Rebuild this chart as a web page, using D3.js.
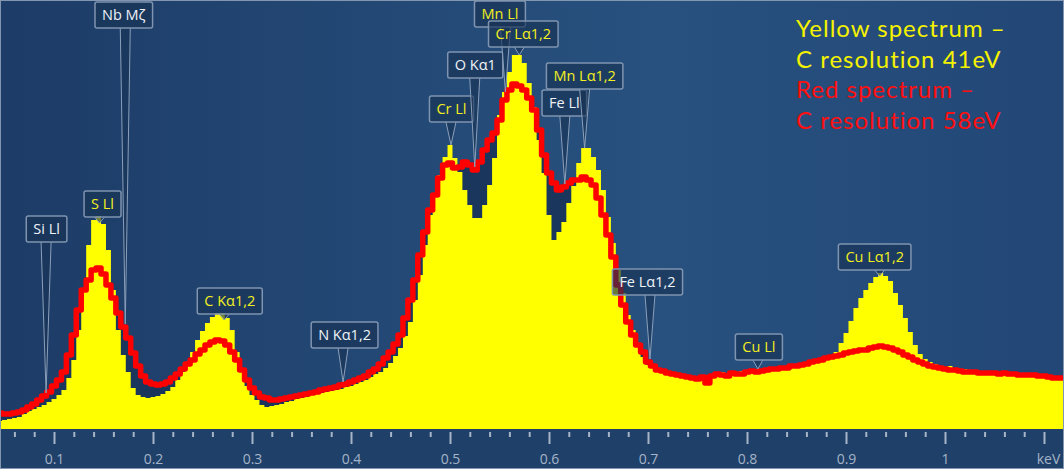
<!DOCTYPE html>
<html>
<head>
<meta charset="utf-8">
<script src="https://cdnjs.cloudflare.com/ajax/libs/d3/7.8.5/d3.min.js"></script>
<style>
  body { margin: 0; background: #1f4068; }
  svg { display: block; }
</style>
</head>
<body>
<div id="chart"></div>
<script>
// Spectrum data: counts per 5 eV bin, first bin centred at 0.045 keV
var binStart = 0.045;
var binWidth = 0.005;

// 41 eV resolution spectrum (yellow histogram)
var yellowCounts = [
  8, 9, 10, 11, 12, 15, 18, 20, 22, 24,
  27, 30, 34, 39, 51, 69, 99, 139, 184, 209,
  213, 205, 179, 139, 99, 74, 57, 41, 34, 32,
  31, 32, 33, 35, 38, 42, 49, 57, 67, 77,
  89, 98, 106, 112, 116, 116, 111, 99, 77, 57,
  43, 34, 29, 24, 22, 23, 24, 25, 27, 28,
  30, 31, 32, 34, 35, 36, 37, 38, 39, 40,
  42, 43, 45, 47, 49, 52, 55, 57, 61, 66,
  73, 81, 93, 107, 129, 154, 184, 214, 234, 254,
  272, 284, 271, 257, 239, 224, 211, 211, 224, 244,
  271, 314, 337, 357, 374, 374, 366, 346, 322, 289,
  256, 214, 189, 197, 207, 226, 243, 266, 281, 281,
  272, 259, 239, 212, 186, 159, 136, 114, 99, 82,
  72, 64, 61, 59, 58, 55, 54, 54, 52, 51,
  52, 50, 52, 54, 55, 55, 57, 56, 58, 57,
  58, 59, 58, 60, 59, 61, 60, 62, 63, 62,
  64, 63, 65, 65, 67, 66, 69, 70, 73, 77,
  86, 96, 108, 121, 131, 139, 146, 152, 156, 153,
  148, 136, 124, 111, 97, 84, 75, 70, 67, 65,
  63, 62, 63, 61, 60, 60, 58, 59, 58, 57,
  58, 56, 57, 56, 55, 56, 54, 55, 54, 53,
  53, 52, 51, 51, 49, 49
];

// 58 eV resolution spectrum (red line)
var redCounts = [
  16, 15, 15, 16, 17, 19, 22, 25, 29, 33,
  37, 43, 49, 57, 74, 94, 119, 139, 149, 159,
  161, 155, 144, 131, 116, 102, 91, 76, 63, 53,
  47, 45, 44, 45, 47, 51, 55, 60, 65, 69,
  75, 79, 84, 87, 89, 88, 84, 77, 69, 59,
  49, 41, 36, 32, 31, 29, 29, 30, 31, 32,
  33, 34, 35, 36, 37, 39, 40, 41, 42, 44,
  45, 47, 49, 51, 53, 57, 60, 65, 71, 77,
  85, 94, 111, 129, 149, 174, 197, 219, 234, 251,
  264, 266, 261, 262, 267, 264, 259, 267, 279, 289,
  296, 309, 329, 339, 345, 343, 339, 331, 319, 299,
  274, 256, 246, 239, 242, 246, 249, 249, 252, 249,
  244, 231, 214, 194, 172, 144, 124, 107, 94, 84,
  77, 67, 63, 59, 58, 56, 55, 54, 53, 52,
  51, 50, 52, 46, 53, 55, 54, 53, 56, 55,
  55, 57, 58, 57, 58, 59, 60, 60, 61, 61,
  63, 63, 64, 65, 67, 68, 69, 71, 72, 73,
  74, 76, 77, 78, 79, 79, 81, 82, 83, 82,
  81, 79, 77, 74, 72, 69, 67, 65, 63, 62,
  61, 60, 59, 59, 58, 57, 57, 57, 56, 56,
  56, 56, 55, 56, 55, 55, 54, 54, 54, 54,
  53, 53, 52, 51, 51, 51
];

var majorTicks = [0.1, 0.2, 0.3, 0.4, 0.5, 0.6, 0.7, 0.8, 0.9, 1.0, 1.1];
var tickLabels = ["0.1", "0.2", "0.3", "0.4", "0.5", "0.6", "0.7", "0.8", "0.9", "1", "keV"];

// element line markers
var markerNames = ["Si Ll", "Nb M\u03b6", "S Ll", "C K\u03b11,2", "N K\u03b11,2", "Cr Ll", "O K\u03b11",
  "Mn Ll", "Cr L\u03b11,2", "Fe Ll", "Mn L\u03b11,2", "Fe L\u03b11,2", "Cu Ll", "Cu L\u03b11,2"];
var markerEnergies = [0.092, 0.172, 0.146, 0.272, 0.392, 0.501, 0.525,
  0.556, 0.570, 0.616, 0.636, 0.702, 0.811, 0.934];
var markerYellow = [false, false, true, true, false, true, false,
  true, true, false, true, false, true, true];

// label box placement: [shift from marker in px, box top in px]
var markerLayout = [[0.5, 216], [-1.5, 2], [3, 191], [5.5, 288], [1.5, 322], [0.5, 96], [0.5, 52],
  [-5.5, 1], [4, 21], [-0.5, 90], [0, 63], [-2.5, 269], [1, 334], [-5, 244]];

var legendLines = ["Yellow spectrum \u2013", "C resolution 41eV", "Red spectrum \u2013", "C resolution 58eV"];
var legendColors = ["#f5f200", "#f5f200", "#ff1010", "#ff1010"];

var svgWidth = 1064;
var svgHeight = 469;
var plotBottom = 429;

var energies = yellowCounts.map(function(d, i) { return binStart + i * binWidth; });

var xScale = d3.scaleLinear().domain([0.1, 1.1]).range([54, 1044]);
var yScale = d3.scaleLinear().domain([0, 420]).range([plotBottom, 9]);

var svg = d3.select("#chart")
  .append("svg")
  .attr("width", svgWidth)
  .attr("height", svgHeight);

var defs = svg.append("defs");
var grad = defs.append("linearGradient")
  .attr("id", "bg")
  .attr("x1", "0").attr("x2", "1").attr("y1", "0").attr("y2", "0");
grad.append("stop").attr("offset", "0%").attr("stop-color", "#1d3c67");
grad.append("stop").attr("offset", "62%").attr("stop-color", "#28517f");
grad.append("stop").attr("offset", "100%").attr("stop-color", "#224777");

svg.append("rect")
  .attr("width", svgWidth)
  .attr("height", plotBottom)
  .attr("fill", "url(#bg)");

// axis band
svg.append("rect")
  .attr("y", plotBottom)
  .attr("width", svgWidth)
  .attr("height", svgHeight - plotBottom)
  .attr("fill", "#1f4068");

var plot = svg.append("g");

var redArea = d3.area()
  .curve(d3.curveStep)
  .x(function(d, i) { return xScale(energies[i]); })
  .y0(plotBottom)
  .y1(function(d) { return yScale(d); });

var yellowArea = d3.area()
  .curve(d3.curveStep)
  .x(function(d, i) { return xScale(energies[i]); })
  .y0(plotBottom)
  .y1(function(d) { return yScale(d); });

var redLine = d3.line()
  .curve(d3.curveStep)
  .x(function(d, i) { return xScale(energies[i]); })
  .y(function(d) { return yScale(d); });

// dark shadow under the red spectrum
plot.append("path")
  .datum(redCounts)
  .attr("d", redArea)
  .attr("fill", "#1a365d");

plot.append("path")
  .datum(yellowCounts)
  .attr("d", yellowArea)
  .attr("fill", "#ffff00");

plot.append("path")
  .datum(redCounts)
  .attr("d", redLine)
  .attr("fill", "none")
  .attr("stroke", "#ff0000")
  .attr("stroke-width", 5.5)
  .attr("stroke-linejoin", "round")
  .attr("stroke-linecap", "round");

// element labels with callout tails
var labels = svg.append("g")
  .attr("font-family", "'Open Sans', sans-serif")
  .attr("font-size", "14.5px");

markerNames.forEach(function(name, i) {
  var e = markerEnergies[i];
  var bin = Math.round((e - binStart) / binWidth);
  var tipX = xScale(e);
  var envY = Math.min(yScale(yellowCounts[bin]), yScale(redCounts[bin]) - 3);
  var cx = tipX + markerLayout[i][0];
  var top = markerLayout[i][1];
  var h = 26;

  var g = labels.append("g");
  var txt = g.append("text")
    .attr("x", cx)
    .attr("y", top + h / 2 + 5)
    .attr("text-anchor", "middle")
    .attr("fill", markerYellow[i] ? "#f2ef1e" : "#eef2f7")
    .text(name);
  var w = txt.node().getComputedTextLength() + 14;
  var bottom = top + h;
  var tipY = Math.max(envY, bottom + 6);

  g.insert("path", "text")
    .attr("d", "M" + (tipX - 5) + "," + bottom + "L" + tipX + "," + tipY + "L" + (tipX + 5) + "," + bottom)
    .attr("fill", "rgba(24,50,84,0.6)")
    .attr("stroke", "#8b9fb9")
    .attr("stroke-width", 1);

  g.insert("rect", "text")
    .attr("x", cx - w / 2)
    .attr("y", top)
    .attr("width", w)
    .attr("height", h)
    .attr("rx", 2)
    .attr("fill", "rgba(24,50,84,0.65)")
    .attr("stroke", "#7f94b0")
    .attr("stroke-width", 1.5);
});

// legend text
svg.append("g")
  .attr("font-family", "Lato, sans-serif")
  .attr("font-size", "24px")
  .attr("letter-spacing", "1px")
  .selectAll("text")
  .data(legendLines)
  .enter().append("text")
  .attr("x", 796)
  .attr("y", function(d, i) { return 37 + i * 30.5; })
  .attr("fill", function(d, i) { return legendColors[i]; })
  .text(function(d) { return d; });

// x axis: major and minor ticks
var minorTicks = d3.range(0.06, 1.101, 0.02).filter(function(v) {
  return Math.abs(v * 10 - Math.round(v * 10)) > 0.01;
});

var minorAxis = d3.axisBottom(xScale)
  .tickValues(minorTicks)
  .tickSize(5)
  .tickFormat("");

var majorAxis = d3.axisBottom(xScale)
  .tickValues(majorTicks)
  .tickSize(12)
  .tickPadding(10)
  .tickFormat(function(d, i) { return tickLabels[i]; });

var gMinor = svg.append("g")
  .attr("transform", "translate(0," + (plotBottom + 3) + ")")
  .call(minorAxis);

var gMajor = svg.append("g")
  .attr("transform", "translate(0," + (plotBottom + 3) + ")")
  .call(majorAxis);

[gMinor, gMajor].forEach(function(g) {
  g.select(".domain").remove();
  g.selectAll(".tick line").attr("stroke", "#a6b5c8").attr("stroke-width", 2);
});

gMajor.selectAll(".tick text")
  .attr("fill", "#a4b4c8")
  .attr("font-family", "'Open Sans', sans-serif")
  .attr("font-size", "14px")
  .attr("dx", function(d, i) { return i === tickLabels.length - 1 ? 4 : 0; });

// outer frame
svg.append("rect")
  .attr("x", 0.5).attr("y", 0.5)
  .attr("width", svgWidth - 1)
  .attr("height", svgHeight - 1)
  .attr("fill", "none")
  .attr("stroke", "#8396b0")
  .attr("stroke-width", 1);
</script>
</body>
</html>
